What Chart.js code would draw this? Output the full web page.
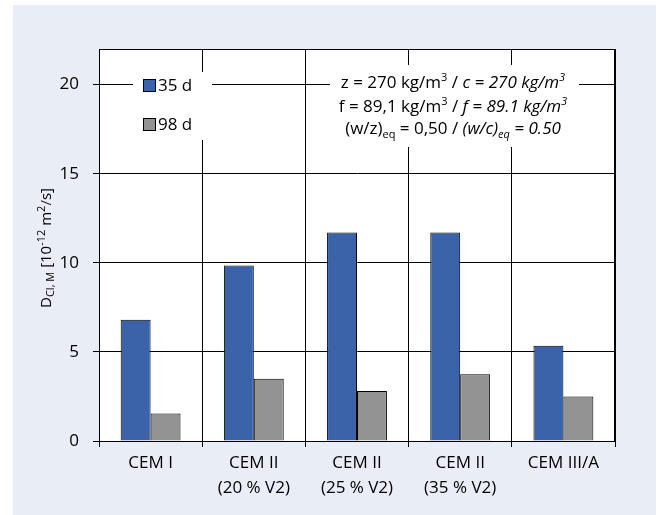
<!DOCTYPE html>
<html>
<head>
<meta charset="utf-8">
<script src="https://cdn.jsdelivr.net/npm/chart.js@4.4.1/dist/chart.umd.min.js"></script>
<style>
    html, body { margin: 0; padding: 0; background: #fff; }
    #wrap { width: 662px; height: 515px; }
</style>
</head>
<body>
<div id="wrap"><canvas id="chart" width="662" height="515"></canvas></div>
<script>
// Daten
const categories = [['CEM I'], ['CEM II', '(20 % V2)'], ['CEM II', '(25 % V2)'], ['CEM II', '(35 % V2)'], ['CEM III/A']];
const seriesLabels = ['35 d', '98 d'];
const values35d = [6.8, 9.85, 11.7, 11.7, 5.35];
const values98d = [1.55, 3.5, 2.8, 3.75, 2.5];
const yTicks = [0, 5, 10, 15, 20];

const FONT = "'Open Sans', sans-serif";
const TEXT = '#000';

// Text mit Hoch-/Tiefstellung und Kursiv
function drawRich(ctx, segs, x, baseline, size, align, small) {
    let total = 0;
    const fontOf = s => (s.i ? 'italic ' : '') + (s.s ? Math.round(size * (small || 0.62)) : size) + 'px ' + FONT;
    segs.forEach(s => { ctx.font = fontOf(s); s.w = ctx.measureText(s.t).width; total += s.w; });
    let cx = align === 'center' ? x - total / 2 : x;
    ctx.textAlign = 'left';
    ctx.textBaseline = 'alphabetic';
    segs.forEach(s => {
        ctx.font = fontOf(s);
        let dy = s.s === 'sup' ? -size * 0.4 : (s.s === 'sub' ? size * 0.22 : 0);
        ctx.fillText(s.t, cx, baseline + dy);
        cx += s.w;
    });
}

const annotLines = [
    [{t: 'z = 270 kg/m'}, {t: '3', s: 'sup'}, {t: ' / '}, {t: 'c = 270 kg/m', i: 1}, {t: '3', s: 'sup', i: 1}],
    [{t: 'f = 89,1 kg/m'}, {t: '3', s: 'sup'}, {t: ' / '}, {t: 'f = 89.1 kg/m', i: 1}, {t: '3', s: 'sup', i: 1}],
    [{t: '(w/z)'}, {t: 'eq', s: 'sub'}, {t: ' = 0,50 / '}, {t: '(w/c)', i: 1}, {t: 'eq', s: 'sub', i: 1}, {t: ' = 0.50', i: 1}]
];
const yTitle = [{t: 'D'}, {t: 'Cl, M', s: 'sub'}, {t: ' [10'}, {t: '-12', s: 'sup'}, {t: ' m'}, {t: '2', s: 'sup'}, {t: '/s]'}];

const decorPlugin = {
    id: 'decor',
    beforeDraw(chart) {
        const ctx = chart.ctx, a = chart.chartArea;
        ctx.save();
        ctx.fillStyle = '#fff';
        ctx.fillRect(0, 0, chart.width, chart.height);
        ctx.fillStyle = '#e9eef6';
        ctx.fillRect(13, 5, 643, 510);
        ctx.fillStyle = '#fff';
        ctx.fillRect(a.left, a.top, a.right - a.left, a.bottom - a.top);
        ctx.restore();
    },
    afterDatasetsDraw(chart) {
        const ctx = chart.ctx, a = chart.chartArea;
        ctx.save();
        // Rahmen
        ctx.strokeStyle = '#000';
        ctx.lineWidth = 1;
        ctx.strokeRect(Math.round(a.left) + 0.5, Math.round(a.top) + 0.5, Math.round(a.right - a.left) - 1, Math.round(a.bottom - a.top));

        // Legende
        ctx.fillStyle = '#fff';
        ctx.fillRect(133, 72, 79, 68);
        const ys = [85, 124];
        chart.data.datasets.forEach((ds, i) => {
            ctx.fillStyle = ds.backgroundColor;
            ctx.fillRect(143, ys[i] - 6, 13, 13);
            ctx.strokeStyle = '#000';
            ctx.strokeRect(143.5, ys[i] - 5.5, 12, 12);
            ctx.fillStyle = TEXT;
            ctx.font = '17px ' + FONT;
            ctx.textAlign = 'left';
            ctx.textBaseline = 'middle';
            ctx.fillText(ds.label, 158, ys[i] + 1);
        });

        // Rezeptur
        ctx.fillStyle = '#fff';
        ctx.fillRect(330, 65, 249, 82);
        ctx.fillStyle = TEXT;
        const bl = [88, 112, 134];
        annotLines.forEach((l, i) => drawRich(ctx, l, 453, bl[i], 17, 'center'));

        // Achsentitel
        ctx.translate(45, 248);
        ctx.rotate(-Math.PI / 2);
        drawRich(ctx, yTitle, 0, 6, 15, 'center', 0.7);
        ctx.restore();
    }
};

Chart.defaults.font.family = FONT;
Chart.defaults.font.size = 17;
Chart.defaults.color = TEXT;

new Chart(document.getElementById('chart').getContext('2d'), {
    type: 'bar',
    data: {
        labels: categories,
        datasets: [
            { label: seriesLabels[0], data: values35d, backgroundColor: '#3a63aa', borderColor: '#000', borderWidth: 1 },
            { label: seriesLabels[1], data: values98d, backgroundColor: '#939393', borderColor: '#000', borderWidth: 1 }
        ]
    },
    options: {
        responsive: false, animation: false,
        layout: { padding: { left: 0, top: 49, right: 47, bottom: 0 } },
        datasets: { bar: { categoryPercentage: 0.58, barPercentage: 1.0 } },
        plugins: { legend: { display: false }, tooltip: { enabled: false } },
        scales: {
            x: {
                grid: { color: '#000', lineWidth: 1, tickLength: 6, offset: true },
                border: { color: '#000', width: 1 },
                ticks: { padding: 3, maxRotation: 0, font: { size: 17, lineHeight: 1.5 } },
                afterFit: s => { s.height = 74; }
            },
            y: {
                min: 0, max: 22,
                grid: { color: '#000', lineWidth: 1, tickLength: 6 },
                border: { color: '#000', width: 1 },
                ticks: { padding: 14, font: { size: 17 } },
                afterBuildTicks: s => { s.ticks = yTicks.map(v => ({ value: v })); },
                afterFit: s => { s.width = 99; }
            }
        }
    },
    plugins: [decorPlugin]
});
</script>
</body>
</html>
